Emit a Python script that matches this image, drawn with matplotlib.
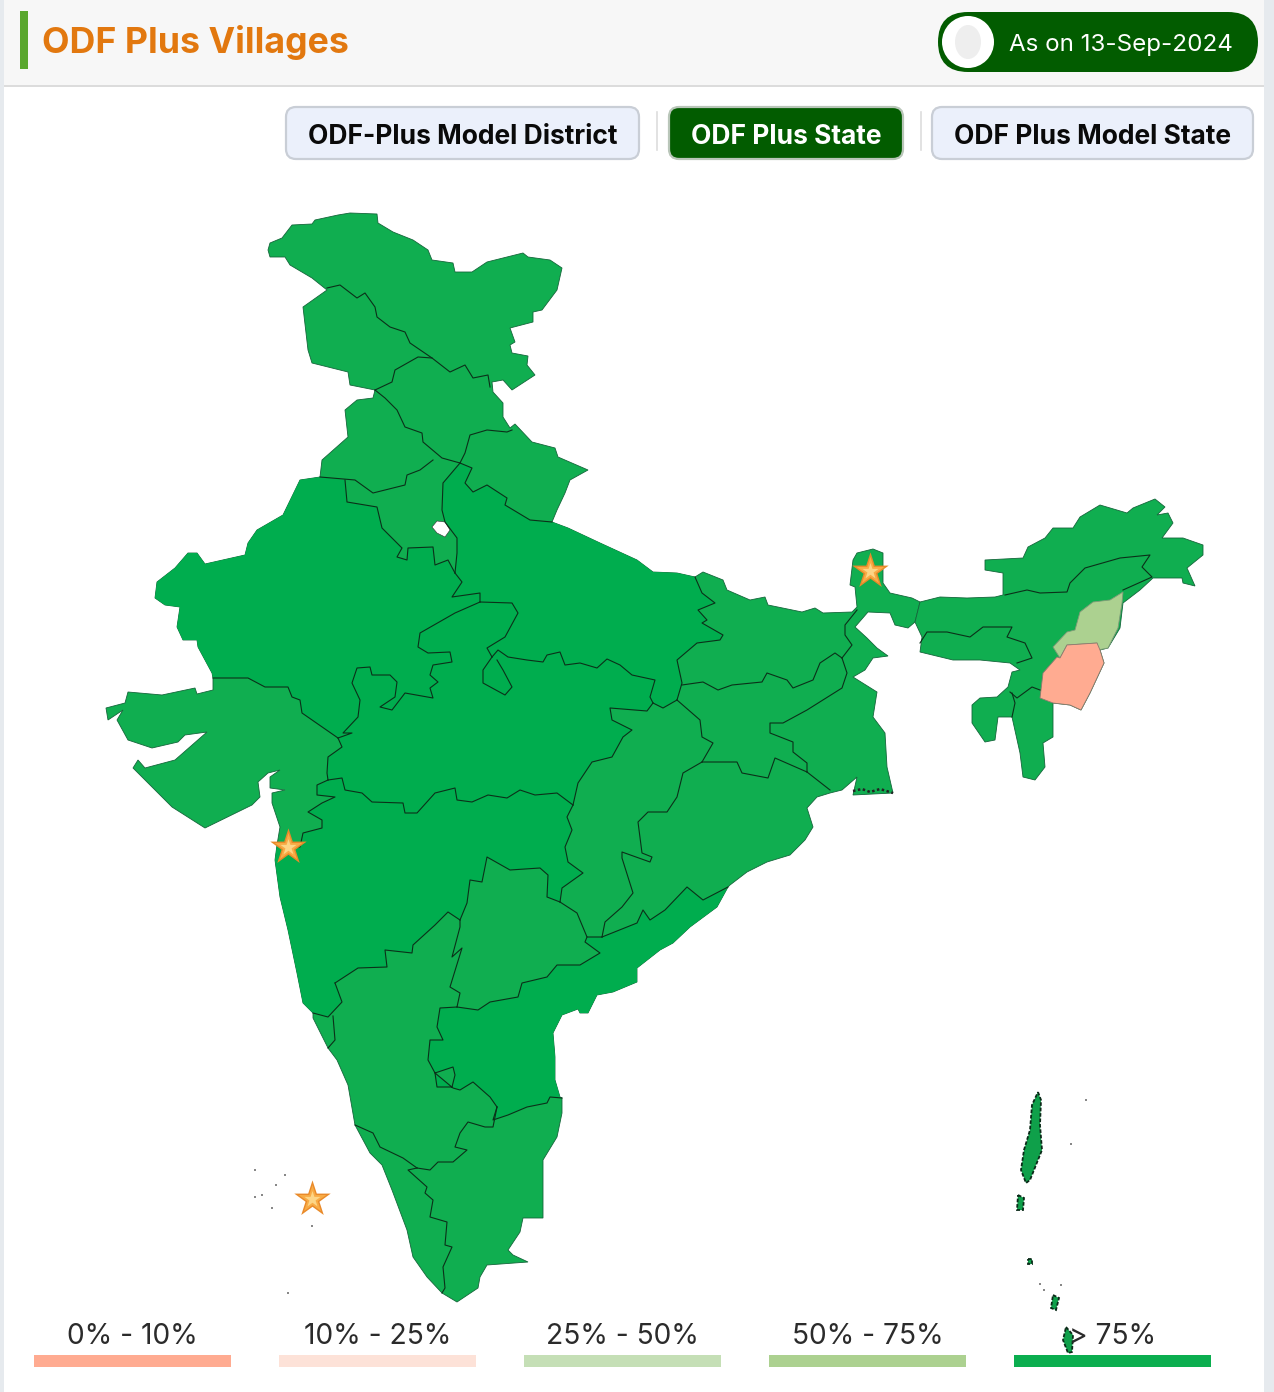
# -*- coding: utf-8 -*-
"""ODF Plus Villages: state choropleth with legend strip and header buttons."""

import matplotlib
matplotlib.use("Agg")
import matplotlib.pyplot as plt
from matplotlib.patches import Ellipse, FancyBboxPatch, Polygon, Rectangle

plt.rcParams["font.family"] = ["Inter", "DejaVu Sans"]

TITLE = "ODF Plus Villages"
AS_ON = "As on 13-Sep-2024"
BUTTONS = ["ODF-Plus Model District", "ODF Plus State", "ODF Plus Model State"]
ACTIVE_BUTTON = "ODF Plus State"
LEGEND_LABELS = ["0% - 10%", "10% - 25%", "25% - 50%", "50% - 75%", "> 75%"]
LEGEND_COLORS = ["#ffab91", "#fde2d8", "#c5dfb6", "#acd190", "#0bae4f"]
C_HIGH = "#10ae50"
C_HIGH_DARK = "#00ad4e"

# outlines in pixel coordinates
COAST_NORTH = [(268, 250), (270, 243), (282, 238), (292, 225), (312, 224), (315, 220), (338, 215), (350, 213),
               (377, 214), (378, 223), (393, 232), (413, 240), (428, 250), (432, 260), (453, 263), (455, 272),
               (472, 272), (487, 262), (523, 253), (528, 257), (550, 260), (562, 268), (557, 290), (542, 310),
               (533, 312), (533, 322), (510, 328), (515, 342), (510, 345), (512, 353), (528, 356), (527, 365),
               (535, 375), (512, 390), (503, 380), (492, 382), (493, 392), (503, 403), (503, 417), (510, 428),
               (515, 424), (532, 442), (555, 448), (558, 457), (588, 470), (570, 480), (565, 493), (557, 510),
               (552, 522)]
COAST_UP = [(552, 522), (568, 528), (600, 543), (637, 560), (653, 572), (677, 573), (695, 577)]
COAST_EAST = [(695, 577), (703, 572), (723, 580), (727, 590), (750, 600), (765, 597), (768, 605), (802, 612),
              (815, 608), (823, 613), (852, 612), (857, 607), (855, 587), (850, 585), (853, 560), (857, 553),
              (873, 549), (883, 553), (883, 583), (890, 593), (912, 598), (920, 602), (915, 622), (908, 628),
              (895, 625), (890, 613), (868, 612), (855, 627), (867, 638), (877, 648), (888, 656), (873, 658),
              (865, 670), (853, 677), (877, 692), (873, 717), (885, 733), (887, 767), (893, 793), (853, 795),
              (857, 777), (842, 790), (830, 793), (817, 797), (807, 808), (813, 827), (805, 840), (790, 855),
              (767, 862), (747, 872), (730, 885), (728, 887)]
COAST_AP = [(728, 887), (717, 907), (690, 927), (673, 943), (660, 950), (637, 968), (637, 982), (613, 992),
            (597, 995), (588, 1013), (580, 1013), (578, 1009), (562, 1015), (553, 1033), (555, 1057), (555, 1080),
            (560, 1097), (562, 1098)]
COAST_SOUTH = [(562, 1098), (562, 1113), (557, 1137), (543, 1160), (543, 1218), (523, 1218), (520, 1232),
               (508, 1250), (513, 1255), (528, 1262), (487, 1265), (480, 1277), (478, 1288), (457, 1302),
               (442, 1293), (427, 1277), (413, 1257), (407, 1230), (392, 1190), (382, 1165), (370, 1153),
               (355, 1125), (348, 1085), (337, 1060), (328, 1048), (313, 1018), (313, 1013)]
COAST_MAHA = [(313, 1013), (303, 1003), (297, 973), (288, 930), (280, 897), (275, 860), (277, 845)]
COAST_GUJ = [(277, 845), (280, 827), (272, 803), (272, 793), (285, 790), (270, 788), (270, 777), (280, 770),
             (268, 773), (258, 782), (260, 797), (252, 805), (205, 828), (172, 807), (133, 768), (138, 760),
             (145, 768), (175, 760), (207, 732), (185, 735), (178, 742), (152, 748), (128, 740), (117, 720),
             (123, 710), (108, 720), (106, 708), (125, 703), (128, 692), (162, 695), (195, 688), (197, 694),
             (213, 690), (213, 678)]
COAST_RAJ = [(213, 678), (212, 673), (198, 647), (197, 640), (183, 640), (177, 627), (180, 607), (165, 605),
             (155, 598), (157, 582), (175, 568), (188, 553), (197, 553), (205, 564), (245, 555), (248, 543),
             (257, 530), (283, 515), (300, 480), (320, 477)]
COAST_NW = [(320, 477), (322, 460), (348, 437), (345, 410), (357, 400), (373, 398), (375, 390), (350, 385),
            (348, 372), (312, 363), (308, 350), (303, 307), (327, 290), (312, 278), (290, 265), (285, 257),
            (270, 257), (268, 250)]

# internal state borders
B_JK_LADAKH = [(327, 288), (340, 285), (357, 298), (365, 293), (375, 307), (377, 317), (390, 327), (405, 332),
               (410, 343), (432, 358), (450, 372), (465, 365), (473, 378), (488, 375), (490, 387)]
B_JK_HP = [(375, 390), (392, 382), (395, 370), (418, 357), (432, 358)]
B_HP_PB = [(375, 390), (385, 398), (397, 410), (405, 427), (422, 433), (423, 442), (442, 458), (460, 463)]
B_HP_UK = [(512, 430), (507, 432), (487, 430), (470, 435), (465, 453), (460, 463)]
B_UK_UP = [(460, 463), (472, 468), (465, 483), (473, 492), (487, 485), (507, 498), (505, 505), (530, 520),
           (552, 522)]
B_HR_UP = [(460, 463), (443, 483), (442, 510), (445, 522), (457, 538), (457, 553), (455, 573)]
B_PB_HR = [(433, 460), (420, 470), (407, 475), (405, 485), (373, 493), (355, 480), (320, 477)]
B_HR_RAJ = [(345, 480), (347, 502), (377, 507), (382, 528), (402, 548), (397, 557), (407, 560), (408, 548),
            (433, 547), (435, 565), (448, 560), (455, 573)]
B_UP_RAJ = [(455, 573), (462, 582), (452, 597), (480, 593), (480, 602)]
B_RAJ_MP = [(480, 602), (455, 613), (420, 633), (418, 647), (428, 653), (450, 652), (452, 662), (433, 665),
            (430, 675), (438, 682), (430, 688), (433, 698), (405, 693), (392, 710), (380, 707), (395, 697),
            (397, 682), (390, 675), (372, 675), (370, 667), (357, 668), (352, 683), (360, 700), (358, 717),
            (343, 733), (352, 733), (338, 738)]
B_GUJ_RAJ = [(213, 678), (248, 678), (265, 687), (288, 687), (292, 697), (300, 700), (302, 713), (338, 738)]
B_GUJ_MP = [(338, 738), (342, 747), (328, 757), (327, 773), (328, 780)]
B_GUJ_MAHA = [(328, 780), (317, 785), (317, 795), (335, 797), (322, 803), (308, 812), (322, 820), (322, 828),
              (303, 833), (300, 847), (277, 845)]
B_MP_MAHA = [(328, 780), (342, 778), (345, 790), (362, 793), (372, 802), (403, 803), (405, 813), (417, 813),
             (435, 793), (455, 788), (457, 800), (472, 802), (488, 795), (507, 798), (520, 790), (535, 795),
             (557, 793), (573, 805)]
B_MP_CG = [(573, 805), (578, 783), (592, 762), (612, 757), (623, 737), (632, 730), (612, 720), (610, 708),
           (647, 711), (653, 703)]
B_UP_MP = [(653, 703), (650, 697), (655, 680), (632, 675), (620, 665), (607, 659), (597, 668), (580, 663),
           (565, 665), (560, 652), (547, 655), (543, 662), (527, 660), (508, 657), (498, 650), (492, 657)]
B_UP_RAJ_2 = [(480, 602), (512, 603), (518, 613), (505, 637), (487, 648), (492, 657)]
B_LOOP = [(492, 657), (483, 670), (483, 683), (505, 695), (512, 687), (503, 670), (497, 660)]
B_UP_BIHAR = [(695, 577), (702, 593), (715, 603), (698, 610), (707, 620), (702, 623), (723, 635), (720, 640),
              (697, 643), (677, 660), (682, 683), (677, 700)]
B_UP_CG = [(653, 703), (663, 708), (677, 700)]
B_BIHAR_JH = [(682, 685), (703, 682), (718, 690), (732, 685), (762, 682), (767, 673), (787, 680), (793, 688),
              (813, 680), (820, 663), (835, 653), (842, 658)]
B_BIHAR_WB = [(842, 658), (852, 645), (845, 635), (845, 625), (857, 610)]
B_JH_WB = [(842, 658), (847, 673), (842, 688), (807, 710), (783, 723), (770, 723), (770, 733), (793, 742),
           (793, 752), (807, 763), (807, 772)]
B_JH_OD = [(702, 762), (737, 762), (742, 773), (768, 778), (775, 758), (807, 772)]
B_WB_OD = [(807, 772), (830, 790)]
B_CG_JH = [(677, 700), (700, 720), (702, 737), (713, 743), (702, 762)]
B_CG_OD = [(702, 762), (683, 773), (677, 797), (667, 812), (648, 812), (638, 822), (642, 853), (652, 857),
           (650, 862), (622, 852), (622, 858), (633, 893), (622, 907), (605, 922), (602, 937)]
B_CG_MAHA = [(573, 805), (567, 817), (572, 830), (565, 847), (568, 862), (583, 873), (562, 888), (560, 902)]
B_CG_TEL = [(560, 902), (577, 913), (587, 937), (602, 937)]
B_OD_AP = [(602, 937), (637, 923), (643, 910), (650, 920), (665, 910), (687, 887), (703, 900), (728, 887)]
B_MAHA_TEL = [(560, 902), (547, 897), (548, 875), (540, 868), (510, 870), (487, 857), (482, 882), (470, 880),
              (467, 903), (460, 920)]
B_MAHA_KA = [(460, 920), (448, 912), (435, 925), (413, 945), (412, 953), (385, 950), (387, 967), (358, 968),
             (335, 983)]
B_GOA = [(335, 983), (342, 1002), (328, 1017), (313, 1013)]
B_GOA_KA = [(333, 1016), (335, 1040), (328, 1048)]
B_TEL_KA = [(460, 920), (460, 927), (452, 957), (462, 948), (450, 987), (460, 993), (457, 1007)]
B_TEL_AP = [(457, 1007), (478, 1010), (490, 1002), (518, 997), (522, 983), (547, 977), (557, 965), (580, 965),
            (600, 953), (585, 942), (587, 937)]
B_KA_AP = [(457, 1007), (440, 1008), (437, 1027), (443, 1040), (430, 1040), (428, 1060), (435, 1073), (453, 1067),
           (455, 1075), (452, 1087), (437, 1087), (435, 1073), (453, 1088), (460, 1090), (473, 1082), (490, 1097),
           (497, 1107)]
B_AP_TN = [(497, 1107), (493, 1120), (508, 1115), (527, 1107), (547, 1103), (550, 1097), (562, 1098)]
B_KA_TN = [(497, 1107), (493, 1127), (485, 1127), (468, 1122), (460, 1133), (455, 1147), (467, 1150), (453, 1162),
           (438, 1162), (430, 1170), (417, 1168)]
B_KL_KA = [(355, 1125), (373, 1133), (380, 1147), (403, 1158), (417, 1168)]
B_KL_TN = [(417, 1168), (408, 1170), (427, 1187), (425, 1193), (433, 1200), (430, 1217), (447, 1222), (445, 1245),
           (452, 1247), (443, 1267), (445, 1288), (442, 1293)]
DELHI = [(432, 527), (437, 521), (445, 522), (450, 530), (445, 537), (437, 533)]

NE_OUTLINE = [(920, 602), (940, 597), (967, 598), (995, 597), (1003, 595), (1003, 573), (985, 570), (985, 560),
              (1023, 558), (1028, 547), (1045, 538), (1053, 528), (1073, 528), (1080, 517), (1100, 505), (1127, 513),
              (1133, 508), (1155, 499), (1165, 507), (1157, 515), (1168, 513), (1173, 523), (1162, 538), (1183, 538),
              (1203, 545), (1203, 555), (1187, 568), (1195, 586), (1183, 583), (1182, 578), (1153, 578), (1140, 590),
              (1123, 603), (1120, 628), (1108, 648), (1100, 650), (1104, 663), (1090, 693), (1081, 710), (1070, 705),
              (1053, 703), (1053, 737), (1043, 743), (1045, 767), (1035, 780), (1023, 777), (1020, 753), (1012, 717),
              (998, 717), (995, 740), (985, 742), (972, 723), (972, 705), (980, 698), (997, 697), (1008, 687),
              (1012, 672), (1020, 670), (1010, 663), (980, 660), (953, 660), (920, 652), (922, 637), (915, 622)]
NAGALAND = [(1123, 592), (1122, 603), (1118, 628), (1108, 648), (1098, 650), (1097, 643), (1067, 645), (1060, 658),
            (1053, 647), (1067, 632), (1075, 630), (1080, 612), (1093, 602), (1110, 600)]
MANIPUR = [(1097, 643), (1100, 650), (1104, 663), (1090, 693), (1081, 710), (1070, 705), (1053, 703), (1040, 698),
           (1043, 673), (1057, 657), (1060, 658), (1067, 645)]
NE_BORDERS = [
    [(1005, 595), (1027, 590), (1040, 593), (1067, 592), (1070, 583), (1085, 568), (1120, 558), (1150, 555),
     (1142, 567), (1152, 577), (1123, 590)],
    [(920, 643), (927, 632), (947, 632), (970, 637), (983, 627), (1012, 627), (1007, 637), (1025, 643), (1032, 658),
     (1017, 663)],
    [(1010, 692), (1017, 698), (1032, 687), (1040, 690)],
    [(1012, 693), (1015, 703), (1012, 717)],
]
ISLANDS = [
    [(1038, 1092), (1041, 1100), (1040, 1125), (1042, 1150), (1036, 1165), (1030, 1180), (1026, 1183), (1021, 1170),
     (1024, 1150), (1030, 1130), (1032, 1105)],
    [(1018, 1195), (1024, 1198), (1023, 1210), (1017, 1210)],
    [(1028, 1259), (1032, 1259), (1032, 1264), (1028, 1264)],
    [(1053, 1295), (1059, 1298), (1056, 1310), (1051, 1308)],
    [(1066, 1327), (1073, 1335), (1072, 1352), (1068, 1353), (1063, 1340)],
]
TINY_X = [255, 262, 276, 285, 255, 272, 312, 288, 1086, 1071, 1040, 1061, 1044]
TINY_Y = [1170, 1195, 1185, 1175, 1197, 1208, 1226, 1293, 1100, 1144, 1284, 1285, 1290]
STAR_X = [288, 870, 312]
STAR_Y = [847, 571, 1199]

B_ALL = [B_JK_LADAKH, B_JK_HP, B_HP_PB, B_HP_UK, B_UK_UP, B_HR_UP, B_PB_HR, B_HR_RAJ, B_UP_RAJ, B_RAJ_MP, B_GUJ_RAJ,
         B_GUJ_MP, B_GUJ_MAHA, B_MP_MAHA, B_MP_CG, B_UP_MP, B_UP_RAJ_2, B_LOOP, B_UP_BIHAR, B_UP_CG, B_BIHAR_JH,
         B_BIHAR_WB, B_JH_WB, B_JH_OD, B_WB_OD, B_CG_JH, B_CG_OD, B_CG_MAHA, B_CG_TEL, B_OD_AP, B_MAHA_TEL, B_MAHA_KA,
         B_GOA, B_GOA_KA, B_TEL_KA, B_TEL_AP, B_KA_AP, B_AP_TN, B_KA_TN, B_KL_KA, B_KL_TN]


def rev(points):
    return points[::-1]


fig = plt.figure(figsize=(12.74, 13.92), dpi=100, facecolor="white")
ax = fig.add_axes([0, 0, 1, 1])
ax.set_xlim(0, 1274)
ax.set_ylim(1392, 0)
ax.axis("off")

# page frame and header
ax.add_patch(Rectangle((0, 0), 4, 1392, fc="#e6eaee", ec="none"))
ax.add_patch(Rectangle((1264, 0), 10, 1392, fc="#e6eaee", ec="none"))
ax.add_patch(Rectangle((4, 0), 1260, 85, fc="#f7f7f7", ec="none"))
ax.add_patch(Rectangle((4, 85), 1260, 2, fc="#dcdcdc", ec="none"))
ax.add_patch(Rectangle((20, 11), 8, 58, fc="#5aa72e", ec="none"))
ax.text(42, 42, TITLE, color="#e2780f", fontsize=25.7, fontweight="bold", va="center", ha="left")
ax.add_patch(FancyBboxPatch((938, 12), 320, 60, boxstyle="round,pad=0,rounding_size=30", fc="#025c00", ec="none"))
ax.add_patch(Ellipse((968, 42), 52, 52, fc="white", ec="none"))
ax.add_patch(Ellipse((968, 42), 26, 34, fc="#eeeeee", ec="none"))
ax.text(1121, 45, AS_ON, color="white", fontsize=17.4, va="center", ha="center")

btn_left = [285, 668, 931]
btn_right = [640, 904, 1254]
for label, x0, x1 in zip(BUTTONS, btn_left, btn_right):
    active = label == ACTIVE_BUTTON
    ax.add_patch(FancyBboxPatch((x0 + 1, 107), x1 - x0 - 2, 52, boxstyle="round,pad=0,rounding_size=10",
                                fc="#025c00" if active else "#ebf0fb", ec="#b9c6b9" if active else "#c9ced6", lw=1.6))
    ax.text((x0 + x1) / 2, 137, label, color="white" if active else "#0a0a0a", fontsize=19, fontweight="bold",
            va="center", ha="center")
for x in [657, 921]:
    ax.plot([x, x], [112, 150], color="#dddddd", lw=1.2)

# mainland and the darker states on top of it
mainland = COAST_NORTH + COAST_UP + COAST_EAST + COAST_AP + COAST_SOUTH + COAST_MAHA + COAST_GUJ + COAST_RAJ + COAST_NW
ax.add_patch(Polygon(mainland, closed=True, fc=C_HIGH, ec="#14663a", lw=0.6, zorder=2))
rajasthan = COAST_RAJ + B_PB_HR[-1:] + B_HR_RAJ + B_UP_RAJ + B_RAJ_MP + rev(B_GUJ_RAJ)
uttar_pradesh = COAST_UP + B_UP_BIHAR + rev(B_UP_CG) + B_UP_MP + rev(B_UP_RAJ_2) + rev(B_UP_RAJ) + rev(B_HR_UP) + B_UK_UP
madhya_pradesh = B_RAJ_MP + B_GUJ_MP + B_MP_MAHA + B_MP_CG + B_UP_MP + rev(B_UP_RAJ_2)
maharashtra = B_MP_MAHA + B_CG_MAHA + B_MAHA_TEL + B_MAHA_KA + B_GOA + COAST_MAHA + rev(B_GUJ_MAHA)
andhra = B_TEL_AP + rev(B_CG_TEL[-2:]) + B_OD_AP + COAST_AP + rev(B_AP_TN) + rev(B_KA_AP)
for poly in [rajasthan, uttar_pradesh, madhya_pradesh, maharashtra, andhra]:
    ax.add_patch(Polygon(poly, closed=True, fc=C_HIGH_DARK, ec="none", zorder=3))
ax.add_patch(Polygon(DELHI, closed=True, fc="white", ec="#333333", lw=0.4, zorder=4))
for border in B_ALL:
    xs, ys = zip(*border)
    ax.plot(xs, ys, color="#0b3019", lw=0.8, zorder=5, solid_joinstyle="round")
ax.plot([853, 862, 870, 880, 893], [791, 789, 792, 789, 793], color="#222222", lw=1.8, ls=(0, (1, 1)), zorder=5)

# north east
ax.add_patch(Polygon(NE_OUTLINE, closed=True, fc=C_HIGH, ec="#14663a", lw=0.6, zorder=2))
ax.add_patch(Polygon(NAGALAND, closed=True, fc=LEGEND_COLORS[3], ec="#7f9a77", lw=0.6, zorder=4))
ax.add_patch(Polygon(MANIPUR, closed=True, fc=LEGEND_COLORS[0], ec="#8d7a6f", lw=0.6, zorder=4))
for border in NE_BORDERS:
    xs, ys = zip(*border)
    ax.plot(xs, ys, color="#0b3019", lw=0.8, zorder=5)

# islands
for island in ISLANDS:
    ax.add_patch(Polygon(island, closed=True, fc="#0fa04a", ec="#0a2a18", lw=1.3, ls=(0, (2, 1)), zorder=6))
ax.scatter(TINY_X, TINY_Y, s=2, c="#888888", marker="s", linewidths=0, zorder=6)

# legend
leg_left = [34, 279, 524, 769, 1014]
for label, color, x0 in zip(LEGEND_LABELS, LEGEND_COLORS, leg_left):
    ax.add_patch(Rectangle((x0, 1355), 197, 12, fc=color, ec="none"))
    ax.text(x0 + 98.5, 1337, label, color="#2b2b2b", fontsize=20.3, va="center", ha="center", zorder=7)

# stars
ax.scatter(STAR_X, STAR_Y, s=760, marker="*", c="#e98a2a", linewidths=0, zorder=8)
ax.scatter(STAR_X, STAR_Y, s=440, marker="*", c="#f8ab45", linewidths=0, zorder=9)
ax.scatter(STAR_X, STAR_Y, s=150, marker="*", c="#fdd586", linewidths=0, zorder=10)

fig.savefig("out.png", dpi=100)
